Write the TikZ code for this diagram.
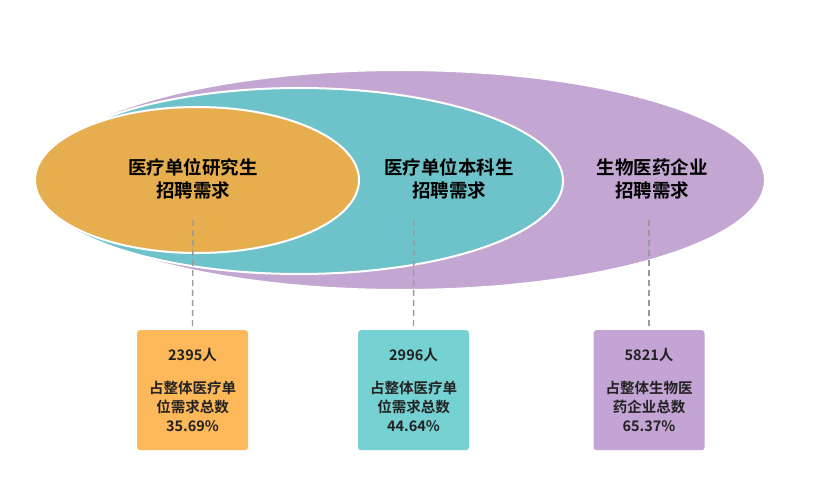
\documentclass[tikz,border=0pt]{standalone}
\usepackage{fontspec}
\newfontfamily\cjk{Noto Sans CJK SC}[BoldFont={Noto Sans CJK SC Bold}]
\definecolor{purpE}{HTML}{C4A6D3}
\definecolor{tealE}{HTML}{6EC3CB}
\definecolor{orgE}{HTML}{E6AE4E}
\definecolor{orgB}{HTML}{FDB85A}
\definecolor{tealB}{HTML}{76D1D2}
\definecolor{purpB}{HTML}{C3A4D4}
\definecolor{dashc}{HTML}{9A9A9A}
\definecolor{txt}{HTML}{222222}
\begin{document}
\begin{tikzpicture}[x=1pt,y=-1pt,
  ell/.style={draw=white,line width=2pt},
  elltext/.style={font=\cjk\bfseries\fontsize{18.5}{23}\selectfont,align=center,text=black},
  infobox/.style={rounded corners=3pt,minimum width=111pt,minimum height=120pt,inner sep=0pt,
    font=\cjk\bfseries\fontsize{14.5}{19}\selectfont,align=center,text=txt,anchor=north},
  lead/.style={draw=dashc,line width=1.4pt,dash pattern=on 6pt off 4pt}]
\useasboundingbox (0,0) rectangle (816,497);
\fill[white] (0,0) rectangle (816,497);
\draw[ell,fill=purpE] (401,180) ellipse [x radius=364,y radius=110];
\draw[ell,fill=tealE] (299,181) ellipse [x radius=264,y radius=93];
\draw[ell,fill=orgE] (197,180) ellipse [x radius=162,y radius=73];
\node[elltext] (t1) at (193,179) {医疗单位研究生\\招聘需求};
\node[elltext] (t2) at (449,179) {医疗单位本科生\\招聘需求};
\node[elltext] (t3) at (652,179) {生物医药企业\\招聘需求};
\coordinate (c1) at (193,220);
\coordinate (c2) at (414,220);
\coordinate (c3) at (649,220);
\node[infobox,fill=orgB] (b1) at (192.5,330) {2395人\\[14pt]占整体医疗单\\位需求总数\\35.69\%};
\node[infobox,fill=tealB] (b2) at (413.5,330) {2996人\\[14pt]占整体医疗单\\位需求总数\\44.64\%};
\node[infobox,fill=purpB] (b3) at (649,330) {5821人\\[14pt]占整体生物医\\药企业总数\\65.37\%};
\draw[lead] (c1) -- (b1.north);
\draw[lead] (c2) -- (b2.north);
\draw[lead] (c3) -- (b3.north);
\end{tikzpicture}
\end{document}
